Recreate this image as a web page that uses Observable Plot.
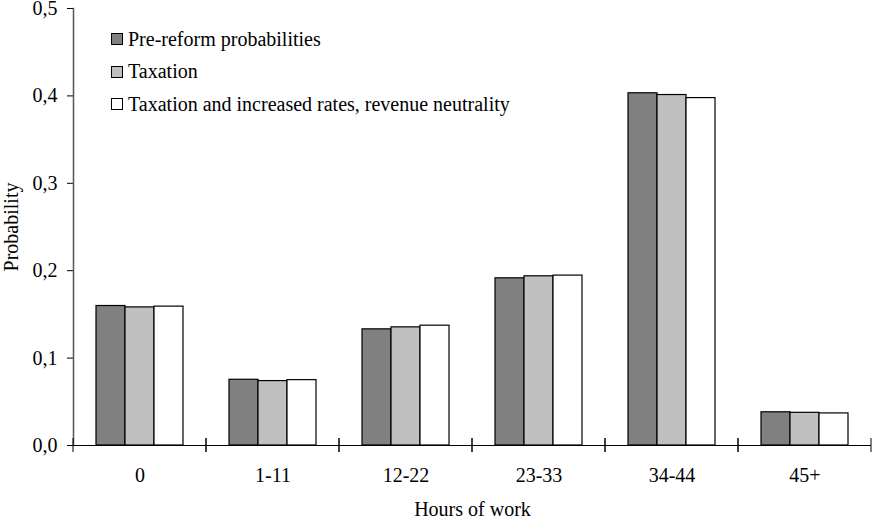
<!DOCTYPE html>
<html>
<head>
<meta charset="utf-8">
<script src="https://cdn.jsdelivr.net/npm/d3@7"></script>
<script src="https://cdn.jsdelivr.net/npm/@observablehq/plot@0.6"></script>
<style>
  body { margin: 0; background: #fff; }
  #wrap { position: relative; width: 874px; height: 520px; font-family: "Liberation Serif", "Times New Roman", serif; }
  #legend { position: absolute; left: 111px; top: 23px; font-family: "Liberation Serif", "Times New Roman", serif; font-size: 20px; color: #000; }
  #legend .row { display: flex; align-items: center; height: 32.5px; white-space: nowrap; }
  #legend .key { width: 10px; height: 10px; border: 1px solid #000; margin-right: 5px; }
</style>
</head>
<body>
<div id="wrap"><div id="legend"></div></div>
<script>
const categories = ["0", "1-11", "12-22", "23-33", "34-44", "45+"];
const seriesNames = ["Pre-reform probabilities", "Taxation", "Taxation and increased rates, revenue neutrality"];
const preReform = [0.1596, 0.0752, 0.1329, 0.1913, 0.4030, 0.0380];
const taxation = [0.1580, 0.0737, 0.1352, 0.1936, 0.4010, 0.0374];
const taxationRevenueNeutral = [0.1589, 0.0748, 0.1371, 0.1944, 0.3975, 0.0367];
const seriesColors = ["#808080", "#c0c0c0", "#ffffff"];
const yTicks = [0, 0.1, 0.2, 0.3, 0.4, 0.5];
const xTitle = "Hours of work";
const yTitle = "Probability";

const seriesValues = [preReform, taxation, taxationRevenueNeutral];
const data = [];
categories.forEach((c, i) => seriesNames.forEach((s, j) => data.push({category: c, series: s, value: seriesValues[j][i]})));

const font = "'Liberation Serif', 'Times New Roman', serif";

const boundaryTicks = (index, scales, values, dim) => {
  const g = d3.create("svg:g").attr("stroke", "#000").attr("stroke-width", 1);
  const y0 = scales.y(0);
  for (const x of [dim.marginLeft, dim.width - dim.marginRight]) {
    g.append("line").attr("x1", x).attr("x2", x).attr("y1", y0 - 7).attr("y2", y0 + 7);
  }
  return g.node();
};

const chart = Plot.plot({
  width: 874,
  height: 520,
  marginLeft: 72,
  marginRight: 2,
  marginTop: 8,
  marginBottom: 75,
  style: {fontFamily: font, fontSize: "20px", background: "#fff", color: "#000", overflow: "visible"},
  fx: {domain: categories, padding: 0},
  x: {domain: seriesNames, paddingInner: 0, paddingOuter: 0.75, axis: null},
  y: {domain: [0, 0.5], axis: null},
  color: {domain: seriesNames, range: seriesColors},
  marks: [
    Plot.axisY({
      ticks: yTicks,
      tickFormat: d => d.toFixed(1).replace(".", ","),
      tickSize: 6,
      tickPadding: 10,
      fontSize: 20,
      label: yTitle,
      labelAnchor: "center",
      labelOffset: 70,
      labelArrow: "none"
    }),
    Plot.frame({anchor: "left", facetAnchor: "left", stroke: "#555", strokeWidth: 1.5}),
    Plot.barY(data, {fx: "category", x: "series", y: "value", fill: "series", stroke: "#000", strokeWidth: 1.2}),
    Plot.ruleY([0], {stroke: "#000", strokeWidth: 1}),
    boundaryTicks,
    Plot.axisFx({
      anchor: "bottom",
      tickSize: 0,
      tickPadding: 22,
      fontSize: 20,
      label: xTitle,
      labelAnchor: "center",
      labelOffset: 70,
      labelArrow: "none"
    })
  ]
});

document.getElementById("wrap").prepend(chart);

const legend = d3.select("#legend");
seriesNames.forEach((s, j) => {
  const row = legend.append("div").attr("class", "row");
  row.append("div").attr("class", "key").style("background", seriesColors[j]);
  row.append("span").text(s);
});
</script>
</body>
</html>
